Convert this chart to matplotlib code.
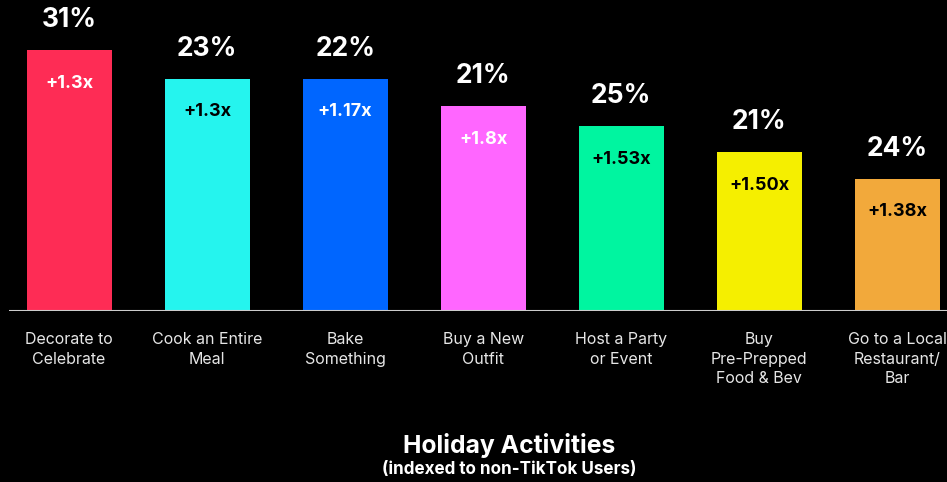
import matplotlib
matplotlib.use("Agg")
import matplotlib.pyplot as plt

plt.rcParams['font.family'] = ['Inter', 'DejaVu Sans']

# datos
categorias = ["Decorate to\nCelebrate", "Cook an Entire\nMeal", "Bake\nSomething",
              "Buy a New\nOutfit", "Host a Party\nor Event", "Buy\nPre-Prepped\nFood & Bev",
              "Go to a Local\nRestaurant/\nBar"]
alturas = [261, 232, 232, 205, 185, 159, 132]   # altura relativa de cada barra
porcentajes = ["31%", "23%", "22%", "21%", "25%", "21%", "24%"]
indices = ["+1.3x", "+1.3x", "+1.17x", "+1.8x", "+1.53x", "+1.50x", "+1.38x"]
colores = ["#FE2C55", "#25F4EE", "#0066FF", "#FF66FF", "#00F5A0", "#F5EF00", "#F2A93B"]
color_texto = ["white", "black", "white", "white", "black", "black", "black"]

fig = plt.figure(figsize=(9.47, 4.82), dpi=100, facecolor="black")
ax = fig.add_axes([9/947, 171/482, 1 - 9/947, 311/482])
ax.set_facecolor("black")

x = range(len(categorias))
ax.bar(x, alturas, width=0.616, color=colores, zorder=2)
ax.set_xlim(-0.435, 6.36)
ax.set_ylim(0, 311)

for i in x:
    ax.annotate(porcentajes[i], (i, alturas[i]), xytext=(0, 30), textcoords="offset pixels",
                ha="center", va="center", color="white", fontsize=19, fontweight="bold")
    ax.annotate(indices[i], (i, alturas[i]), xytext=(0, -33), textcoords="offset pixels",
                ha="center", va="center", color=color_texto[i], fontsize=13, fontweight="bold")
    ax.annotate(categorias[i], (i, 0), xytext=(0, -21), textcoords="offset pixels",
                ha="center", va="top", color="#e6e6e6", fontsize=11.5, linespacing=1.38,
                annotation_clip=False)

# linea base
ax.axhline(0, color="#cccccc", linewidth=1.5, zorder=3)
for s in ax.spines.values():
    s.set_visible(False)
ax.set_xticks([])
ax.set_yticks([])

fig.text(509/947, 1 - 445/482, "Holiday Activities", ha="center", va="center",
         color="white", fontsize=17.8, fontweight="bold")
fig.text(509/947, 1 - 470/482, "(indexed to non-TikTok Users)", ha="center", va="center",
         color="white", fontsize=12.3, fontweight="bold")

fig.savefig("out.png", dpi=100, facecolor="black")
